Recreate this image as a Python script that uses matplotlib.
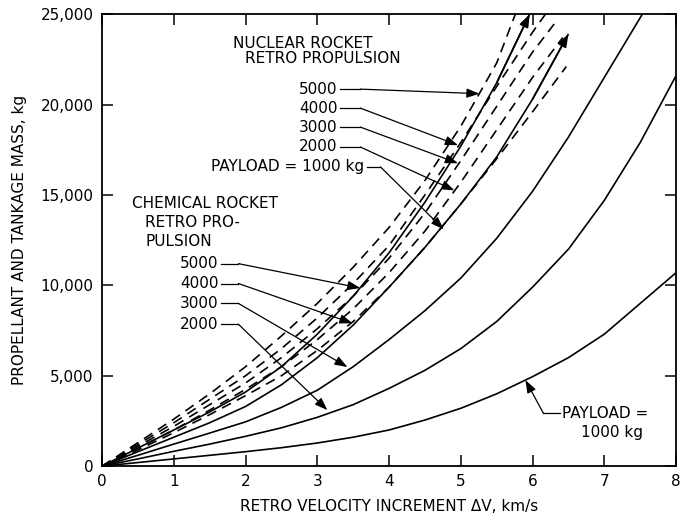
import numpy as np
import matplotlib
matplotlib.use("Agg")
import matplotlib.pyplot as plt

# retro velocity increment, km/s
dv = [0, 0.5, 1, 1.5, 2, 2.5, 3, 3.5, 4, 4.5, 5, 5.5, 6, 6.5, 7, 7.5, 8]

# chemical rocket retro propulsion, propellant + tankage mass (thousand kg)
chem_1000_x = dv
chem_1000 = [0, 0.2, 0.4, 0.6, 0.8, 1.02, 1.28, 1.6, 2.0, 2.55, 3.2, 4.0, 4.95, 6.0, 7.3, 9.0, 10.7]
chem_2000_x = dv
chem_2000 = [0, 0.4, 0.82, 1.22, 1.65, 2.12, 2.7, 3.4, 4.3, 5.3, 6.5, 8.0, 9.9, 12.0, 14.7, 17.9, 21.6]
chem_3000_x = [0, 0.5, 1, 1.5, 2, 2.5, 3, 3.5, 4, 4.5, 5, 5.5, 6, 6.5, 7, 7.53]
chem_3000 = [0, 0.6, 1.22, 1.83, 2.45, 3.25, 4.2, 5.5, 7.0, 8.6, 10.4, 12.6, 15.2, 18.2, 21.5, 25.0]
chem_4000_x = [0, 0.5, 1, 1.5, 2, 2.5, 3, 3.5, 4, 4.5, 5, 5.5, 6, 6.5]
chem_4000 = [0, 0.8, 1.6, 2.4, 3.3, 4.5, 6.0, 7.8, 9.9, 12.1, 14.5, 17.1, 20.3, 23.9]
chem_5000_x = [0, 0.5, 1, 1.5, 2, 2.5, 3, 3.5, 4, 4.5, 5, 5.5, 5.96]
chem_5000 = [0, 1.0, 2.0, 3.0, 4.1, 5.5, 7.3, 9.4, 11.8, 14.6, 17.7, 21.2, 25.0]

# nuclear rocket retro propulsion (thousand kg)
nuc_5000_x = [0, 0.5, 1, 1.5, 2, 2.5, 3, 3.5, 4, 4.5, 5, 5.5, 5.76]
nuc_5000 = [0, 1.3, 2.6, 4.0, 5.5, 7.2, 9.0, 11.0, 13.2, 15.8, 18.8, 22.3, 25.0]
nuc_4000_x = [0, 0.5, 1, 1.5, 2, 2.5, 3, 3.5, 4, 4.5, 5, 5.5, 6, 6.18]
nuc_4000 = [0, 1.2, 2.4, 3.7, 5.0, 6.5, 8.2, 10.1, 12.2, 15.0, 17.9, 21.0, 24.0, 25.0]
nuc_3000_x = [0, 0.5, 1, 1.5, 2, 2.5, 3, 3.5, 4, 4.5, 5, 5.5, 6, 6.33]
nuc_3000 = [0, 1.1, 2.2, 3.4, 4.6, 6.0, 7.6, 9.4, 11.5, 14.0, 16.9, 19.9, 22.9, 24.6]
nuc_2000_x = [0, 0.5, 1, 1.5, 2, 2.5, 3, 3.5, 4, 4.5, 5, 5.5, 6, 6.42]
nuc_2000 = [0, 1.0, 2.0, 3.1, 4.25, 5.5, 7.0, 8.7, 10.7, 13.0, 15.7, 18.6, 21.5, 23.7]
nuc_1000_x = [0, 0.5, 1, 1.5, 2, 2.5, 3, 3.5, 4, 4.5, 5, 5.5, 6, 6.47]
nuc_1000 = [0, 0.9, 1.85, 2.85, 3.9, 5.0, 6.4, 8.0, 9.9, 12.1, 14.5, 17.0, 19.6, 22.1]

x_ticks = [0, 1, 2, 3, 4, 5, 6, 7, 8]
y_ticks = [0, 5000, 10000, 15000, 20000, 25000]
y_tick_labels = ["0", "5,000", "10,000", "15,000", "20,000", "25,000"]

plt.rcParams['font.family'] = ['DejaVu Sans']
fig = plt.figure(figsize=(6.85, 5.22), dpi=100)
ax = fig.add_axes([0.149, 0.107, 0.838, 0.866])

lw = 1.2
chem = [(chem_1000_x, chem_1000), (chem_2000_x, chem_2000), (chem_3000_x, chem_3000),
        (chem_4000_x, chem_4000), (chem_5000_x, chem_5000)]
for xs, ys in chem:
    ax.plot(xs, np.array(ys) * 1000, color='black', lw=lw, solid_capstyle='butt')

nuc = [(nuc_1000_x, nuc_1000), (nuc_2000_x, nuc_2000), (nuc_3000_x, nuc_3000),
       (nuc_4000_x, nuc_4000), (nuc_5000_x, nuc_5000)]
for xs, ys in nuc:
    ax.plot(xs, np.array(ys) * 1000, color='black', lw=lw, dashes=(6, 4))

head = '-|>,head_length=0.55,head_width=0.2'

# arrowheads at the end of the 4000 and 5000 chemical curves
for xs, ys in [(chem_4000_x, chem_4000), (chem_5000_x, chem_5000)]:
    ax.annotate('', xy=(xs[-1], ys[-1] * 1000), xytext=(xs[-2], ys[-2] * 1000),
                arrowprops=dict(arrowstyle=head, color='black', lw=lw,
                                mutation_scale=14, shrinkA=0, shrinkB=0))

ax.set_xlim(0, 8)
ax.set_ylim(0, 25000)
ax.set_xticks(x_ticks)
ax.set_yticks(y_ticks)
ax.set_yticklabels(y_tick_labels)
ax.tick_params(direction='in', length=8, width=1.1, top=True, right=True,
               labelsize=11, pad=6)
for s in ax.spines.values():
    s.set_linewidth(1.3)

ax.set_xlabel('RETRO VELOCITY INCREMENT \u0394V, km/s', fontsize=11, labelpad=7)
ax.set_ylabel('PROPELLANT AND TANKAGE MASS, kg', fontsize=11, labelpad=10)

fs = 11
arrow = dict(arrowstyle=head, color='black', lw=0.9, mutation_scale=14,
             shrinkA=0, shrinkB=0)


def leader(text, tx, ty, bend_x, tip, ha='right'):
    ax.text(tx, ty, text, fontsize=fs, ha=ha, va='center')
    ax.plot([tx + 0.04, bend_x], [ty, ty], color='black', lw=0.9)
    ax.annotate('', xy=tip, xytext=(bend_x, ty), arrowprops=arrow)


# nuclear rocket labels
ax.text(1.83, 23350, 'NUCLEAR ROCKET', fontsize=fs, ha='left', va='center')
ax.text(1.99, 22550, 'RETRO PROPULSION', fontsize=fs, ha='left', va='center')
leader('5000', 3.28, 20850, 3.6, (5.26, 20600))
leader('4000', 3.28, 19800, 3.6, (4.96, 17750))
leader('3000', 3.28, 18750, 3.6, (4.96, 16750))
leader('2000', 3.28, 17650, 3.6, (4.91, 15250))
leader('PAYLOAD = 1000 kg', 3.65, 16550, 3.88, (4.76, 13100))

# chemical rocket labels
ax.text(0.42, 14550, 'CHEMICAL ROCKET', fontsize=fs, ha='left', va='center')
ax.text(0.6, 13450, 'RETRO PRO-', fontsize=fs, ha='left', va='center')
ax.text(0.6, 12450, 'PULSION', fontsize=fs, ha='left', va='center')
leader('5000', 1.62, 11200, 1.9, (3.6, 9850))
leader('4000', 1.62, 10100, 1.9, (3.49, 7900))
leader('3000', 1.62, 9000, 1.9, (3.42, 5480))
leader('2000', 1.62, 7850, 1.9, (3.14, 3100))

# payload = 1000 kg label for chemical
ax.text(6.41, 2930, 'PAYLOAD =', fontsize=fs, ha='left', va='center')
ax.text(7.1, 1880, '1000 kg', fontsize=fs, ha='center', va='center')
ax.plot([6.38, 6.15], [2930, 2930], color='black', lw=0.9)
ax.annotate('', xy=(5.9, 4760), xytext=(6.15, 2930), arrowprops=arrow)

fig.savefig('out.png', dpi=100)
